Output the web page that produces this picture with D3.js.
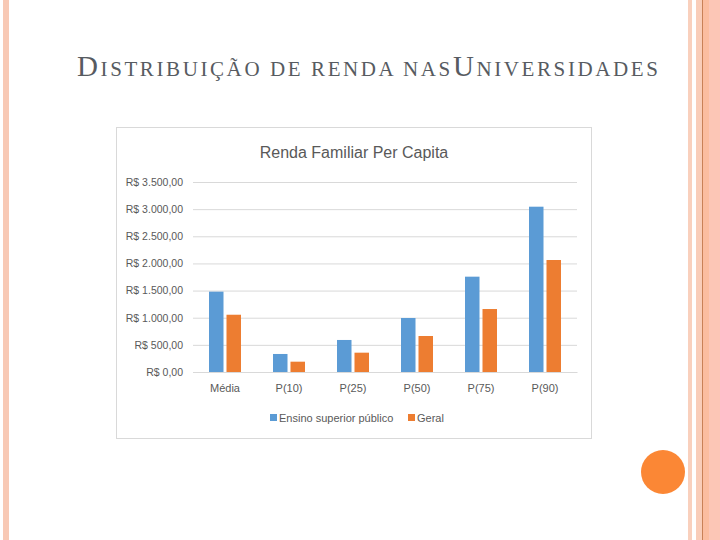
<!DOCTYPE html>
<html>
<head>
<meta charset="utf-8">
<script src="https://cdn.jsdelivr.net/npm/d3@7"></script>
<style>
  body { margin: 0; background: #fff; }
  svg { display: block; }
</style>
</head>
<body>
<div id="slide"></div>
<script>
// data
const categories = ["Média", "P(10)", "P(25)", "P(50)", "P(75)", "P(90)"];
const seriesNames = ["Ensino superior público", "Geral"];
const publico = [1480, 332, 590, 995, 1756, 3045];
const geral = [1055, 190, 356, 663, 1160, 2063];
const yTicks = [0, 500, 1000, 1500, 2000, 2500, 3000, 3500];
const colors = ["#5b9bd5", "#ed7d31"];

const W = 720, H = 540;
const svg = d3.select("#slide").append("svg").attr("width", W).attr("height", H);

// slide decoration
svg.append("rect").attr("x", 3).attr("y", 0).attr("width", 6).attr("height", H).attr("fill", "#f8c9b5");
svg.append("rect").attr("x", 688).attr("y", 0).attr("width", 4).attr("height", H).attr("fill", "#f9d0bd");
svg.append("rect").attr("x", 696).attr("y", 0).attr("width", 24).attr("height", H).attr("fill", "#fcc6b6");
svg.append("rect").attr("x", 696).attr("y", 0).attr("width", 6).attr("height", H).attr("fill", "#f9cdb9");
svg.append("rect").attr("x", 702).attr("y", 0).attr("width", 1).attr("height", H).attr("fill", "#c98157");
svg.append("rect").attr("x", 703).attr("y", 0).attr("width", 6).attr("height", H).attr("fill", "#fbbda0");
svg.append("circle").attr("cx", 663).attr("cy", 472).attr("r", 22).attr("fill", "#fb8735");

// slide title in small caps
const title = svg.append("text").attr("x", 77).attr("y", 76)
  .attr("font-family", "Liberation Serif, serif").attr("fill", "#575b61")
  .attr("letter-spacing", 2.6);
[["D", 29], ["ISTRIBUIÇÃO DE RENDA NAS", 21], ["U", 29], ["NIVERSIDADES", 21]].forEach(p => {
  title.append("tspan").attr("font-size", p[1]).text(p[0]);
});

// chart frame
svg.append("rect").attr("x", 116.5).attr("y", 127.5).attr("width", 475).attr("height", 311)
  .attr("fill", "#fff").attr("stroke", "#d9d9d9");

svg.append("text").attr("x", 354).attr("y", 158).attr("text-anchor", "middle")
  .attr("font-family", "Liberation Sans, sans-serif").attr("font-size", 16)
  .attr("fill", "#595959").text("Renda Familiar Per Capita");

const x = d3.scaleBand().domain(categories).range([193, 577]);
const y = d3.scaleLinear().domain([0, 3500]).range([372, 182]);
const barW = 14.5, gap = 3;

const fmt = v => "R$ " + d3.format(",.2f")(v).replace(/,/g, "#").replace(".", ",").replace(/#/g, ".");

const yAxis = d3.axisLeft(y).tickValues(yTicks).tickSize(-(577 - 193)).tickFormat(fmt).tickPadding(10);
const gy = svg.append("g").attr("transform", "translate(193,0)").call(yAxis);
gy.select(".domain").remove();
gy.selectAll("line").attr("stroke", "#d9d9d9");
gy.selectAll("text").attr("fill", "#595959").attr("font-size", 10.5)
  .attr("font-family", "Liberation Sans, sans-serif");

const xAxis = d3.axisBottom(x).tickSize(0).tickPadding(12);
const gx = svg.append("g").attr("transform", "translate(0,372)").call(xAxis);
gx.select(".domain").attr("stroke", "#d9d9d9");
gx.selectAll("text").attr("fill", "#595959").attr("font-size", 11)
  .attr("font-family", "Liberation Sans, sans-serif");

[publico, geral].forEach((vals, s) => {
  svg.append("g").selectAll("rect").data(vals).enter().append("rect")
    .attr("x", (d, i) => x(categories[i]) + x.bandwidth() / 2 - barW - gap / 2 + s * (barW + gap))
    .attr("width", barW)
    .attr("y", d => y(d))
    .attr("height", d => y(0) - y(d))
    .attr("fill", colors[s]);
});

// legend
const legX = [270, 408];
seriesNames.forEach((name, i) => {
  svg.append("rect").attr("x", legX[i]).attr("y", 414).attr("width", 7).attr("height", 7).attr("fill", colors[i]);
  svg.append("text").attr("x", legX[i] + 9).attr("y", 421.5).attr("font-size", 11)
    .attr("font-family", "Liberation Sans, sans-serif").attr("fill", "#595959").text(name);
});
</script>
</body>
</html>
